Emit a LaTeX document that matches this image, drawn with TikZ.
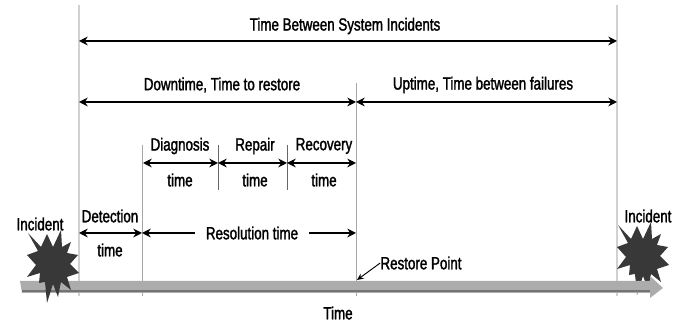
\documentclass[tikz,border=0pt]{standalone}
\usepackage{fontspec}
\setmainfont[FakeStretch=0.76,FakeBold=1.6]{Liberation Sans}
\usetikzlibrary{arrows.meta}
\definecolor{barg}{RGB}{172,172,172}
\definecolor{bard}{RGB}{115,115,115}
\definecolor{stard}{RGB}{56,56,56}
\tikzset{
  x=0.75pt,y=-0.75pt,
  span/.style={line width=1.4pt,{Stealth[length=6.5pt,width=6.5pt]}-{Stealth[length=6.5pt,width=6.5pt]}},
  halfl/.style={line width=1.4pt,{Stealth[length=6.5pt,width=6.5pt]}-},
  halfr/.style={line width=1.4pt,-{Stealth[length=6.5pt,width=6.5pt]}},
  lite/.style={draw=black!18,line width=0.8pt},
  thin gray/.style={draw=black!35,line width=0.5pt},
  dark tick/.style={draw=black!60,line width=0.6pt},
  lab/.style={inner sep=0pt,font=\fontsize{13.2pt}{15pt}\selectfont,text=black},
}
\newcommand{\burst}{(28,233)--(41,247)--(47,234)--(53,247)--(61,230)--(62,247)--(71,242)--(67,253)--(78,255)--(70,264)--(79,273)--(67,277)--(71,290)--(61,282)--(58,297)--(53,284)--(47,303)--(45,282)--(39,283)--(40,273)--(27,277)--(36,265)--(27,255)--(38,251)--cycle}
\begin{document}
\begin{tikzpicture}
\useasboundingbox (0,0) rectangle (682,323);
\fill[white] (0,0) rectangle (682,323);
\coordinate (a0) at (79,5); \coordinate (a1) at (79,296);
\coordinate (g0) at (617,5); \coordinate (g1) at (617,296);
\coordinate (b0) at (142,145); \coordinate (b1) at (142,296);
\coordinate (r0) at (356,83); \coordinate (r1) at (356,296);
\coordinate (c0) at (218,145); \coordinate (c1) at (218,190);
\coordinate (d0) at (287,145); \coordinate (d1) at (287,190);
\draw[lite] (a0)--(a1);
\draw[lite] (g0)--(g1);
\draw[thin gray] (b0)--(b1);
\draw[thin gray] (r0)--(r1);
\draw[dark tick] (c0)--(c1);
\draw[dark tick] (d0)--(d1);
\fill[stard,xshift=442.5pt,yshift=6pt] \burst;
\fill[barg] (20,281)--(650,281)--(650,276)--(663,288)--(650,298)--(650,293)--(22,293)--cycle;
\fill[bard] (22,290)--(650,290)--(650,292)--(22,292)--cycle;
\fill[stard] \burst;
\coordinate (t1) at (79,41); \coordinate (t2) at (617,41);
\draw[span] (t1)--(t2);
\coordinate (u1) at (79,102); \coordinate (u2) at (356,102); \coordinate (u3) at (617,102);
\draw[span] (u1)--(u2);
\draw[span] (u2)--(u3);
\coordinate (v1) at (143,163); \coordinate (v2) at (218,163); \coordinate (v3) at (287,163); \coordinate (v4) at (356,163);
\draw[span] (v1)--(v2);
\draw[span] (v2)--(v3);
\draw[span] (v3)--(v4);
\coordinate (w1) at (79,233); \coordinate (w2) at (142,233); \coordinate (w3) at (356,233);
\draw[span] (w1)--(w2);
\node[lab] (top) at (345,26) {Time Between System Incidents};
\node[lab] (down) at (222,85) {Downtime, Time to restore};
\node[lab] (up) at (483,85) {Uptime, Time between failures};
\node[lab] (diag) at (180,146) {Diagnosis};
\node[lab] (diagt) at (180,180) {time};
\node[lab] (rep) at (255,146) {Repair};
\node[lab] (rept) at (255,180) {time};
\node[lab] (rec) at (324,146) {Recovery};
\node[lab] (rect) at (324,180) {time};
\node[lab] (det) at (110,216) {Detection};
\node[lab] (dett) at (110,250) {time};
\node[lab] (res) at (252,233) {Resolution time};
\node[lab] (inc1) at (40,224) {Incident};
\node[lab] (inc2) at (648,216) {Incident};
\node[lab] (rp) at (421,263) {Restore Point};
\node[lab] (time) at (338,313) {Time};
\draw[halfl,shorten >=8pt] (w2)--(res.west);
\draw[halfr,shorten <=8pt] (res.east)--(w3);
\coordinate (rpt) at (357,280);
\draw[line width=0.7pt,-{Stealth[length=5pt,width=4.5pt]}] (rp.west)--(rpt);
\end{tikzpicture}
\end{document}
